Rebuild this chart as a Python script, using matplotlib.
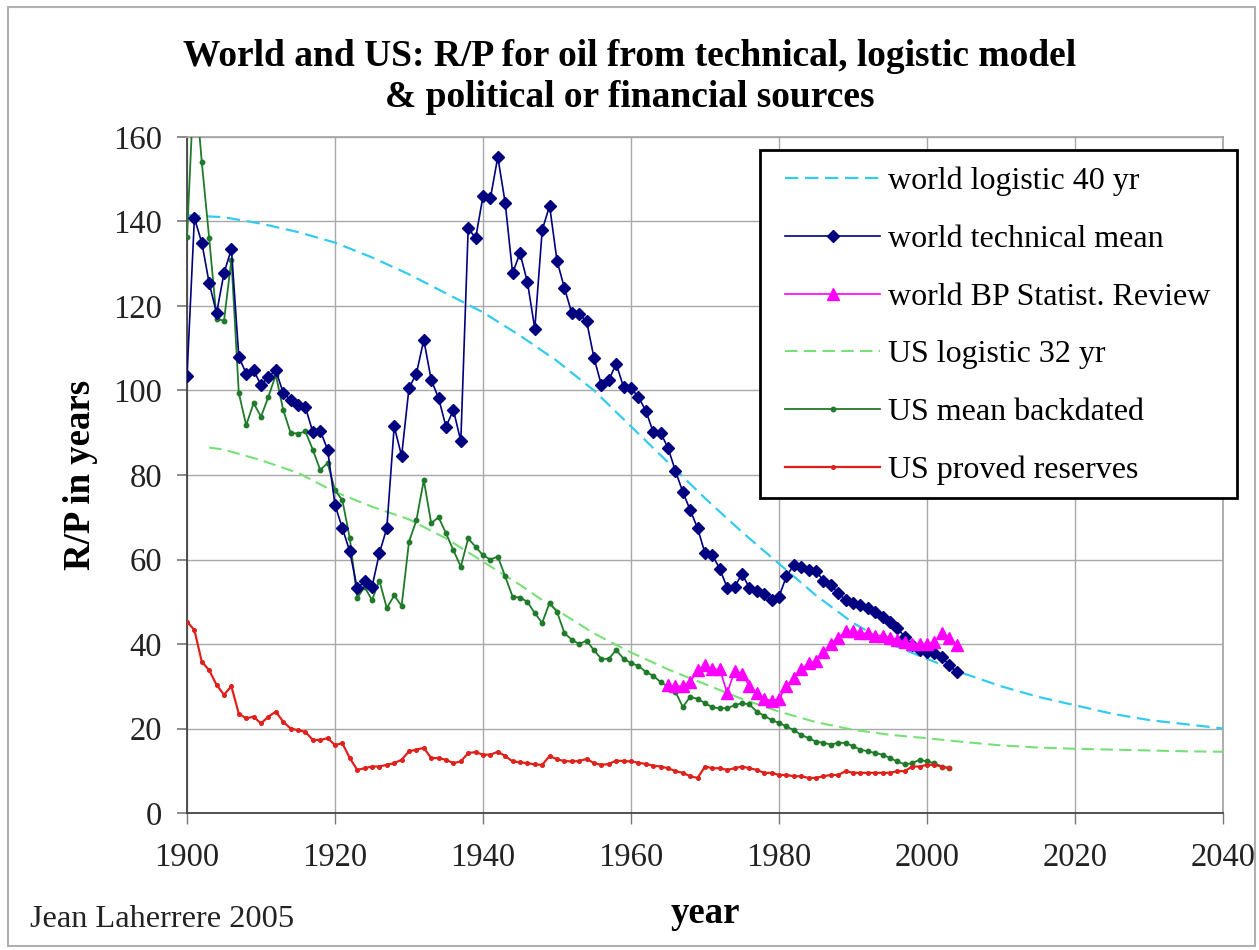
import matplotlib
matplotlib.use("Agg")
import matplotlib.pyplot as plt
from matplotlib.patches import Rectangle

plt.rcParams['font.family'] = ['Liberation Serif', 'DejaVu Serif']

# --- R/P series (years of remaining production) ---
TECH_YEARS = list(range(1900, 2005))
world_technical = [
    103.4, 140.8, 135.0, 125.4, 118.3, 127.8, 133.5, 108.0, 104.0, 104.8,
    101.3, 103.2, 104.8, 99.4, 97.8, 96.6, 96.0, 90.2, 90.5, 86.0,
    72.9, 67.4, 61.9, 53.2, 54.8, 53.5, 61.5, 67.4, 91.5, 84.5,
    100.6, 104.0, 112.0, 102.5, 98.2, 91.4, 95.4, 88.0, 138.5, 136.0,
    146.0, 145.5, 155.3, 144.4, 127.8, 132.5, 125.7, 114.6, 138.0, 143.7,
    130.7, 124.3, 118.3, 118.0, 116.4, 107.7, 101.3, 102.5, 106.3, 100.8,
    100.5, 98.5, 95.2, 90.2, 90.0, 86.4, 81.0, 76.0, 71.7, 67.4,
    61.5, 61.0, 57.8, 53.3, 53.5, 56.6, 53.3, 52.5, 51.8, 50.5,
    51.2, 56.0, 58.7, 58.3, 57.5, 57.3, 55.0, 54.0, 52.0, 50.4,
    49.7, 49.2, 48.5, 47.6, 46.4, 45.2, 43.7, 41.7, 39.7, 38.6,
    38.2, 37.8, 37.0, 35.0, 33.4,
]

BP_YEARS = list(range(1965, 2005))
world_bp = [
    30.3, 30.0, 30.0, 31.0, 33.8, 35.0, 34.0, 34.0, 28.4, 33.6,
    33.0, 30.0, 28.4, 27.0, 26.6, 27.0, 30.0, 32.0, 34.0, 35.4,
    36.0, 38.0, 40.0, 41.5, 43.0, 43.0, 42.5, 42.5, 42.0, 42.0,
    41.5, 41.0, 40.5, 40.0, 40.0, 40.0, 40.5, 42.6, 41.5, 39.8,
]

US_YEARS = list(range(1900, 2004))
us_mean = [
    136.4, 175.0, 154.0, 136.0, 117.0, 116.5, 131.0, 99.4, 91.8, 97.0,
    93.8, 98.5, 103.7, 95.4, 90.0, 89.8, 90.3, 86.0, 81.2, 82.8,
    76.4, 74.0, 65.0, 50.9, 53.5, 50.4, 55.0, 48.5, 51.5, 49.0,
    64.2, 69.3, 78.8, 68.6, 70.0, 66.2, 62.2, 58.3, 65.0, 63.0,
    61.0, 60.0, 60.7, 56.0, 51.2, 51.0, 50.0, 47.3, 45.0, 49.8,
    47.6, 42.6, 41.0, 40.0, 40.8, 38.5, 36.5, 36.5, 38.6, 36.5,
    35.5, 34.8, 33.4, 32.5, 31.0, 29.9, 28.7, 25.1, 27.5, 27.0,
    26.0, 25.0, 24.8, 24.8, 25.5, 26.0, 25.7, 24.0, 23.0, 22.0,
    21.3, 20.5, 19.6, 18.5, 17.7, 16.9, 16.6, 16.2, 16.6, 16.6,
    15.8, 15.0, 14.6, 14.2, 13.8, 13.0, 12.2, 11.5, 11.8, 12.6,
    12.2, 11.8, 11.0, 10.6,
]
us_proved = [
    45.3, 43.3, 35.8, 33.8, 30.3, 28.0, 30.0, 23.5, 22.4, 22.8,
    21.2, 22.8, 24.0, 21.6, 20.0, 19.6, 19.2, 17.3, 17.3, 17.7,
    16.1, 16.5, 13.0, 10.2, 10.6, 11.0, 11.0, 11.4, 11.8, 12.6,
    14.6, 15.0, 15.4, 13.0, 13.0, 12.6, 11.8, 12.2, 14.2, 14.4,
    13.8, 13.8, 14.5, 13.5, 12.2, 12.0, 11.8, 11.5, 11.4, 13.5,
    12.7, 12.3, 12.2, 12.3, 12.8, 11.8, 11.4, 11.6, 12.4, 12.3,
    12.2, 11.9, 11.6, 11.2, 11.0, 10.6, 9.9, 9.5, 8.7, 8.3,
    11.0, 10.6, 10.6, 10.2, 10.6, 11.0, 10.6, 10.2, 9.5, 9.5,
    9.0, 9.0, 8.7, 8.7, 8.3, 8.3, 8.7, 9.0, 9.0, 9.9,
    9.5, 9.5, 9.5, 9.5, 9.5, 9.5, 9.9, 9.9, 11.0, 11.0,
    11.4, 11.4, 11.0, 10.6,
]

# --- logistic model curves ---
WL_YEARS = list(range(1900, 2041, 5))
world_logistic = [
    141.5, 141.0, 139.5, 137.5, 135.0, 131.5, 127.5, 123.0, 118.5, 113.0,
    107.0, 100.0, 91.5, 83.0, 74.5, 66.5, 59.0, 51.5, 45.0, 40.0,
    36.5, 33.0, 30.0, 27.5, 25.5, 23.5, 22.0, 21.0, 20.0,
]
UL_YEARS = [1903] + list(range(1905, 2041, 5))
us_logistic = [
    86.5, 86.0, 83.5, 80.5, 76.0, 72.5, 69.5, 65.0, 59.5, 54.0,
    48.0, 42.5, 38.0, 34.0, 30.5, 27.0, 24.0, 21.5, 19.7, 18.5,
    17.7, 16.8, 16.0, 15.5, 15.2, 15.0, 14.8, 14.6, 14.5,
]

W, H = 1259, 950
fig = plt.figure(figsize=(W / 100, H / 100), dpi=100)
ax = fig.add_axes([187 / W, 1 - 813 / H, 1036 / W, 676 / H])

ax.plot(WL_YEARS, world_logistic, color='#33ccee', lw=1.6, dashes=(6, 3),
        label='world logistic 40 yr', zorder=3)
ax.plot(TECH_YEARS, world_technical, color='#000080', lw=1.2, marker='D',
        ms=6.5, label='world technical mean', zorder=5)
ax.plot(BP_YEARS, world_bp, color='#ff00ff', lw=1.2, marker='^', ms=8,
        label='world BP Statist. Review', zorder=6)
ax.plot(UL_YEARS, us_logistic, color='#77e077', lw=1.5, dashes=(6, 3),
        label='US logistic 32 yr', zorder=3)
ax.plot(US_YEARS, us_mean, color='#1f7a2a', lw=1.3, marker='o', ms=3.2,
        label='US mean backdated', zorder=4)
ax.plot(US_YEARS, us_proved, color='#e0201a', lw=1.6, marker='o', ms=2.6,
        label='US proved reserves', zorder=4)

ax.set_xlim(1900, 2040)
ax.set_ylim(0, 160)
ax.set_xticks(range(1900, 2041, 20))
ax.set_yticks(range(0, 161, 20))
ax.grid(True, color='#a8a8a8', lw=1.0)
ax.set_axisbelow(True)
ax.tick_params(axis='both', labelsize=23.5, labelcolor='#222222', color='#777777')
ax.tick_params(axis='x', length=8, width=1.0, pad=13)
ax.tick_params(axis='y', length=7, width=1.2, pad=11)
for side in ['left', 'bottom']:
    ax.spines[side].set_color('#444444')
    ax.spines[side].set_linewidth(1.3)
for side in ['top', 'right']:
    ax.spines[side].set_color('#a8a8a8')
    ax.spines[side].set_linewidth(1.3)

ax.set_ylabel('R/P in years', fontsize=26.5, fontweight='bold')
ax.yaxis.set_label_coords(-0.086, 0.5)
ax.set_xlabel('year', fontsize=26.5, fontweight='bold', va='center')
ax.xaxis.set_label_coords(0.5, -0.148)

fig.suptitle('World and US: R/P for oil from technical, logistic model\n'
             '& political or financial sources',
             x=0.5, y=1 - 39 / H, va='top', fontsize=27, fontweight='bold',
             linespacing=1.23)

fig.text(30 / W, 1 - 927 / H, 'Jean Laherrere 2005', fontsize=23.3,
         va='baseline', ha='left', color='#222222')

# legend box drawn separately so its padding can be set freely
box = Rectangle((760 / W, 1 - 498 / H), 477 / W, 348 / H,
                transform=fig.transFigure, facecolor='white',
                edgecolor='black', lw=2.0, zorder=19, clip_on=False)
ax.add_artist(box)
leg = ax.legend(loc='upper left', bbox_to_anchor=(785 / W, 1 - 167 / H),
                bbox_transform=fig.transFigure, borderaxespad=0, borderpad=0,
                fontsize=23, frameon=False, handlelength=2.98,
                handletextpad=0.25, labelspacing=0.885, numpoints=1)
leg.set_zorder(20)

# thin frame around the whole chart area
fig.patches.append(Rectangle((0.006, 0.004), 0.991, 0.989,
                             transform=fig.transFigure, fill=False,
                             edgecolor='#b0b0b0', lw=1.5))

fig.savefig('out.png', dpi=100)
